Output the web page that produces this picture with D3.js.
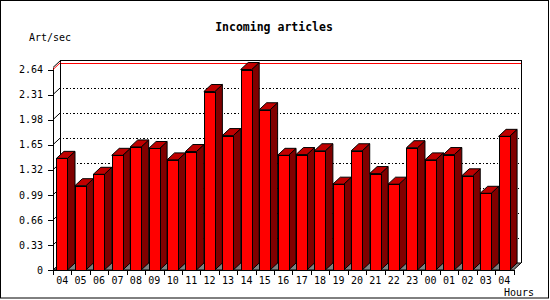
<!DOCTYPE html>
<html>
<head>
<meta charset="utf-8">
<script src="https://cdn.jsdelivr.net/npm/d3@7"></script>
<style>
  body { margin: 0; background: #fff; }
  svg { display: block; }
  text { font-family: "DejaVu Sans Mono", monospace; fill: #000; }
</style>
</head>
<body>
<div id="chart"></div>
<script>
// Incoming articles per hour (3D bar chart)
const hourLabels = ["04","05","06","07","08","09","10","11","12","13","14","15","16",
                    "17","18","19","20","21","22","23","00","01","02","03","04"];
const artPerSec = [1.47,1.11,1.26,1.51,1.62,1.60,1.45,1.56,2.35,1.77,2.64,2.11,1.51,
                   1.52,1.57,1.13,1.57,1.27,1.13,1.61,1.45,1.52,1.24,1.01,1.76];
const yTickValues = [0,0.33,0.66,0.99,1.32,1.65,1.98,2.31,2.64];
const maxValue = 2.64;

const W = 550, H = 300;
const depthX = 7.5, depthY = 7;   // 3d offset of back wall

const svg = d3.select("#chart").append("svg")
  .attr("width", W).attr("height", H);

// outer frame
svg.append("rect")
  .attr("x", 0.5).attr("y", 0.5).attr("width", W - 2).attr("height", H - 2.5)
  .attr("fill", "#fff").attr("stroke", "#000");

// scales (front plane)
const x = d3.scaleBand()
  .domain(d3.range(hourLabels.length))
  .range([53, 513.5])
  .paddingInner(0).paddingOuter(0);

const y = d3.scaleLinear()
  .domain([0, maxValue])
  .range([270, 69.5]);

const x0 = x.range()[0], x1 = x.range()[1];
const yBase = y(0), yTop = y(maxValue) - 2;

const lines = svg.append("g").attr("shape-rendering", "crispEdges");

// back wall
lines.append("path")
  .attr("d", `M${x0 + depthX},${yBase - depthY} L${x0 + depthX},${yTop - depthY} L${x1 + depthX},${yTop - depthY} L${x1 + depthX},${yBase - depthY}`)
  .attr("fill", "#fff").attr("stroke", "#000");

// grid lines: diagonal on left wall, dotted on back wall
yTickValues.filter(v => v > 0 && v < maxValue).forEach(v => {
  svg.append("line")
    .attr("x1", x0).attr("y1", y(v))
    .attr("x2", x0 + depthX).attr("y2", y(v) - depthY)
    .attr("stroke", "#000");
  lines.append("line")
    .attr("x1", x0 + depthX + 2).attr("x2", x1 + depthX)
    .attr("y1", Math.round(y(v) - depthY) + 0.5).attr("y2", Math.round(y(v) - depthY) + 0.5)
    .attr("stroke", "#000").attr("stroke-dasharray", "1.5,2");
});

// max line in red
svg.append("line")
  .attr("x1", x0).attr("y1", y(maxValue))
  .attr("x2", x0 + depthX).attr("y2", y(maxValue) - depthY)
  .attr("stroke", "#f00");
lines.append("line")
  .attr("x1", x0 + depthX).attr("x2", x1 + depthX)
  .attr("y1", Math.round(y(maxValue) - depthY) + 0.5).attr("y2", Math.round(y(maxValue) - depthY) + 0.5)
  .attr("stroke", "#f00");

// left wall top edge
svg.append("line")
  .attr("x1", x0).attr("y1", yTop)
  .attr("x2", x0 + depthX).attr("y2", yTop - depthY)
  .attr("stroke", "#000");

// floor
svg.append("path")
  .attr("d", `M${x0},${yBase} L${x0 + depthX},${yBase - depthY} L${x1 + depthX},${yBase - depthY} L${x1},${yBase} Z`)
  .attr("fill", "#808080").attr("stroke", "#000");

// front axis lines
lines.append("line")
  .attr("x1", x0 + 0.5).attr("x2", x0 + 0.5)
  .attr("y1", yTop).attr("y2", yBase)
  .attr("stroke", "#000");
lines.append("line")
  .attr("x1", x0).attr("x2", x1)
  .attr("y1", yBase + 0.5).attr("y2", yBase + 0.5)
  .attr("stroke", "#000");

// 3d bars
const barOffset = 3.5, barWidth = 11;
const bars = svg.selectAll(".bar")
  .data(artPerSec)
  .enter().append("g")
  .attr("class", "bar");

bars.append("path") // side face
  .attr("d", (d, i) => {
    const r = x(i) + barOffset + barWidth, t = y(d);
    return `M${r},${t} L${r + depthX},${t - depthY} L${r + depthX},${yBase - depthY} L${r},${yBase} Z`;
  })
  .attr("fill", "#800000").attr("stroke", "#000").attr("stroke-linejoin", "round");

bars.append("path") // top face
  .attr("d", (d, i) => {
    const l = x(i) + barOffset, r = l + barWidth, t = y(d);
    return `M${l},${t} L${l + depthX},${t - depthY} L${r + depthX},${t - depthY} L${r},${t} Z`;
  })
  .attr("fill", "#c00000").attr("stroke", "#000").attr("stroke-linejoin", "round");

bars.append("rect") // front face
  .attr("x", (d, i) => Math.round(x(i) + barOffset) + 0.5)
  .attr("y", d => Math.round(y(d)) + 0.5)
  .attr("width", barWidth)
  .attr("height", d => yBase - Math.round(y(d)))
  .attr("fill", "#ff0000").attr("stroke", "#000");

// y axis ticks & labels
const yAxis = svg.append("g")
  .attr("transform", `translate(${x0},0)`)
  .call(d3.axisLeft(y)
    .tickValues(yTickValues)
    .tickSize(5)
    .tickPadding(5)
    .tickFormat(d => d === 0 ? "0" : d.toFixed(2)));
yAxis.select(".domain").remove();
yAxis.selectAll("line").attr("stroke", "#000").attr("shape-rendering", "crispEdges");
yAxis.selectAll("text").style("font-size", "10px").attr("font-family", null);

// x axis boundary ticks
const bounds = d3.range(hourLabels.length + 1).map(i => i < hourLabels.length ? x(i) : x1);
lines.selectAll(".xtick")
  .data(bounds)
  .enter().append("line")
  .attr("x1", d => Math.round(d) + 0.5).attr("x2", d => Math.round(d) + 0.5)
  .attr("y1", yBase).attr("y2", yBase + 5)
  .attr("stroke", "#000");

svg.selectAll(".xlabel")
  .data(hourLabels)
  .enter().append("text")
  .attr("x", (d, i) => x(i) + x.bandwidth() / 2)
  .attr("y", 283.5)
  .attr("text-anchor", "middle")
  .style("font-size", "10px")
  .text(d => d);

// titles
svg.append("text")
  .attr("x", 274).attr("y", 31)
  .attr("text-anchor", "middle")
  .style("font-size", "11.5px")
  .style("font-weight", "bold")
  .text("Incoming articles");

svg.append("text")
  .attr("x", 29).attr("y", 40.5)
  .style("font-size", "10px")
  .text("Art/sec");

svg.append("text")
  .attr("x", 504).attr("y", 295.5)
  .style("font-size", "10px")
  .text("Hours");
</script>
</body>
</html>
